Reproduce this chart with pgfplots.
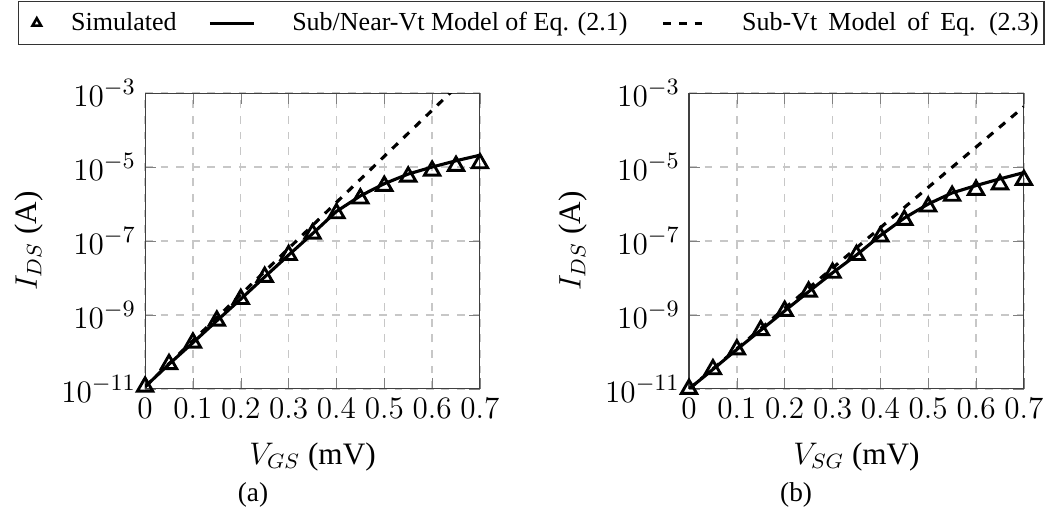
\documentclass[border=0pt]{standalone}
\usepackage[no-math]{fontspec}
\setmainfont{Liberation Serif}
\usepackage{pgfplots}
\pgfplotsset{compat=1.18}

\tikzset{
  simtri/.style={black, only marks, mark=triangle, mark size=3.4pt, mark options={line width=1.1pt, solid}},
  modline/.style={black, line width=1.2pt, no marks},
  subline/.style={black, line width=1.2pt, dashed, no marks},
}
\newcommand{\wsp}{\spaceskip=4.3pt\relax}

\begin{document}
\begin{tikzpicture}
\path[use as bounding box] (0,0) rectangle (402.3pt,197.3pt);

\begin{axis}[scale only axis, width=128.8pt, height=113.8pt,
  ymode=log, xmin=0, xmax=0.7, ymin=1e-11, ymax=1e-3,
  xtick={0,0.1,0.2,0.3,0.4,0.5,0.6,0.7},
  ytick={1e-11,1e-9,1e-7,1e-5,1e-3},
  yminorticks=false,
  grid=major, major grid style={dashed, black!22, line width=0.5pt},
  tick label style={font=\fontsize{13}{15}\selectfont},
  label style={font=\fontsize{12}{14}\selectfont},
  xlabel style={yshift=-2.5pt},
  xticklabel style={/pgf/number format/fixed},
  axis line style={black!75},
  tick style={black!50},
  at={(55.8pt,47.7pt)}, anchor=south west,
  xlabel={$V_{GS}$ (mV)}, ylabel={$I_{DS}$ (A)},
  legend columns=3,
  legend style={at={(axis description cs:-0.3797,1.311)}, anchor=north west,
    font=\fontsize{10}{12}\selectfont, draw=black!80, line width=0.5pt,
    inner xsep=0pt,
    /tikz/column 1/.style={column sep=9.6pt},
    /tikz/column 2/.style={column sep=10.2pt},
    /tikz/column 3/.style={column sep=12pt},
    /tikz/column 4/.style={column sep=11.2pt},
    /tikz/column 5/.style={column sep=10.6pt}},
]
\addlegendimage{black, only marks, mark=triangle, mark size=1.9pt, mark options={line width=1pt, solid},
  legend image code/.code={\path[draw=none, fill=none] (-7pt,0pt) (0pt,0pt);
    \draw[black, only marks, mark=triangle, mark size=1.9pt, mark options={line width=1pt, solid}] plot coordinates {(0pt,0pt)};}}
\addlegendentry{Simulated}
\addlegendimage{black, line width=1.2pt}
\addlegendentry{Sub/Near-Vt Model of Eq. (2.1)}
\addlegendimage{black, line width=1.2pt, dashed}
\addlegendentry{\wsp Sub-Vt Model of Eq. (2.3)}

\addplot[subline, forget plot] coordinates {(0,1.15e-11) (0.35,2.64e-7) (0.7,6.03e-3)};
\addplot[modline, forget plot] coordinates {
(0,1.15e-11) (0.05,4.68e-11) (0.1,1.78e-10) (0.15,7.0e-10) (0.2,2.69e-9)
(0.25,1.07e-8) (0.3,4.17e-8) (0.35,1.58e-7) (0.4,6.31e-7) (0.45,1.66e-6)
(0.5,3.55e-6) (0.55,6.46e-6) (0.6,1.0e-5) (0.65,1.48e-5) (0.7,2.09e-5)};
\addplot[simtri, forget plot] coordinates {
(0,1.15e-11) (0.05,4.68e-11) (0.1,1.78e-10) (0.15,7.0e-10) (0.2,2.69e-9)
(0.25,1.07e-8) (0.3,4.17e-8) (0.35,1.58e-7) (0.4,5.62e-7) (0.45,1.41e-6)
(0.5,3.09e-6) (0.55,5.50e-6) (0.6,7.94e-6) (0.65,1.07e-5) (0.7,1.26e-5)};
\end{axis}

\begin{axis}[scale only axis, width=128.8pt, height=113.8pt,
  ymode=log, xmin=0, xmax=0.7, ymin=1e-11, ymax=1e-3,
  xtick={0,0.1,0.2,0.3,0.4,0.5,0.6,0.7},
  ytick={1e-11,1e-9,1e-7,1e-5,1e-3},
  yminorticks=false,
  grid=major, major grid style={dashed, black!22, line width=0.5pt},
  tick label style={font=\fontsize{13}{15}\selectfont},
  label style={font=\fontsize{12}{14}\selectfont},
  xlabel style={yshift=-2.5pt},
  xticklabel style={/pgf/number format/fixed},
  axis line style={black!75},
  tick style={black!50},
  at={(265pt,47.7pt)}, anchor=south west,
  xlabel={$V_{SG}$ (mV)}, ylabel={$I_{DS}$ (A)}]
\addplot[subline] coordinates {(0,1.0e-11) (0.35,6.53e-8) (0.7,4.27e-4)};
\addplot[modline] coordinates {
(0,1.0e-11) (0.05,3.39e-11) (0.1,1.17e-10) (0.15,3.89e-10) (0.2,1.29e-9)
(0.25,4.27e-9) (0.3,1.38e-8) (0.35,4.17e-8) (0.4,1.41e-7) (0.45,4.17e-7)
(0.5,1.0e-6) (0.55,2.0e-6) (0.6,3.16e-6) (0.65,4.79e-6) (0.7,7.08e-6)};
\addplot[simtri] coordinates {
(0,1.0e-11) (0.05,3.39e-11) (0.1,1.17e-10) (0.15,3.89e-10) (0.2,1.29e-9)
(0.25,4.27e-9) (0.3,1.38e-8) (0.35,4.17e-8) (0.4,1.32e-7) (0.45,3.72e-7)
(0.5,8.51e-7) (0.55,1.66e-6) (0.6,2.40e-6) (0.65,3.39e-6) (0.7,4.47e-6)};
\end{axis}

\node[font=\fontsize{10.5}{12}\selectfont, anchor=base] at (97.3pt,4.5pt) {(a)};
\node[font=\fontsize{10.5}{12}\selectfont, anchor=base] at (306.2pt,4.5pt) {(b)};
\end{tikzpicture}
\end{document}
